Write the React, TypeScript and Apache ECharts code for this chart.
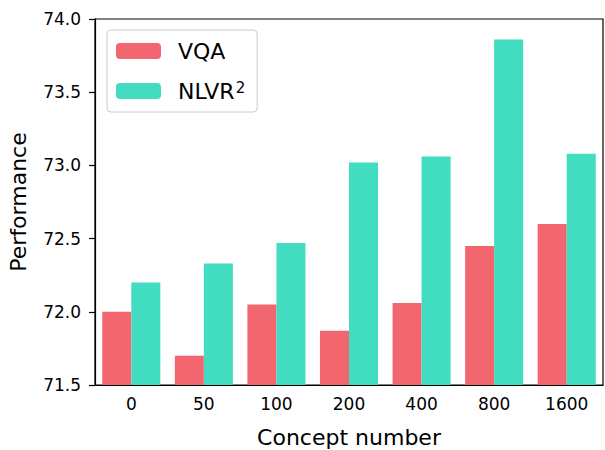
import React, { useEffect, useRef } from "react";
import * as echarts from "echarts";

const categories = ["0", "50", "100", "200", "400", "800", "1600"];
const vqaValues = [72.0, 71.7, 72.05, 71.87, 72.06, 72.45, 72.6];
const nlvrValues = [72.2, 72.33, 72.47, 73.02, 73.06, 73.86, 73.08];
const seriesNames = ["VQA", "NLVR²"];
const legendLabels: Record<string, string> = { "VQA": "VQA", "NLVR²": "NLVR{sup|2}" };

export default function App() {
  const ref = useRef<HTMLDivElement>(null);
  useEffect(() => {
    document.body.style.margin = "0";
    const chart = echarts.init(ref.current!, null, { renderer: "svg" });
    const font = "DejaVu Sans";
    chart.setOption({
      animation: false,
      backgroundColor: "#fff",
      textStyle: { fontFamily: font, color: "#000" },
      grid: {
        left: 95,
        right: 2,
        top: 19,
        bottom: 65,
        outerBoundsMode: "none",
        containLabel: false,
        show: true,
        borderColor: "#000",
        borderWidth: 1.2,
        backgroundColor: "transparent",
      },
      legend: {
        left: 107,
        top: 30,
        orient: "vertical",
        itemWidth: 45,
        itemHeight: 16,
        itemGap: 18,
        padding: [10, 12, 10, 9],
        borderColor: "#cccccc",
        borderWidth: 1,
        borderRadius: 4,
        backgroundColor: "rgba(255,255,255,0.8)",
        formatter: (name: string) => legendLabels[name] ?? name,
        textStyle: {
          fontFamily: font,
          fontSize: 22,
          color: "#000",
          padding: [0, 0, 0, 12],
          rich: {
            sup: { fontFamily: font, fontSize: 15, color: "#000", verticalAlign: "top", padding: [0, 0, 0, 1] },
          },
        },
        data: seriesNames,
      },
      xAxis: {
        type: "category",
        data: categories,
        name: "Concept number",
        nameLocation: "middle",
        nameGap: 41,
        nameTextStyle: { fontFamily: font, fontSize: 22, color: "#000" },
        axisLine: { lineStyle: { color: "#000", width: 1.2 } },
        axisTick: { alignWithLabel: true, length: 6, lineStyle: { color: "#000", width: 1.2 } },
        axisLabel: { fontFamily: font, fontSize: 17, color: "#000", margin: 10 },
      },
      yAxis: {
        type: "value",
        min: 71.5,
        max: 74.0,
        interval: 0.5,
        name: "Performance",
        nameLocation: "middle",
        nameGap: 66,
        nameTextStyle: { fontFamily: font, fontSize: 22, color: "#000" },
        axisLine: { show: true, lineStyle: { color: "#000", width: 1.2 } },
        axisTick: { show: true, length: 6, lineStyle: { color: "#000", width: 1.2 } },
        axisLabel: {
          fontFamily: font,
          fontSize: 17,
          color: "#000",
          margin: 14,
          formatter: (v: number) => v.toFixed(1),
        },
        splitLine: { show: false },
      },
      series: [
        {
          name: seriesNames[0],
          type: "bar",
          data: vqaValues,
          barGap: "0%",
          barCategoryGap: "20%",
          itemStyle: { color: "#f26670" },
        },
        {
          name: seriesNames[1],
          type: "bar",
          data: nlvrValues,
          itemStyle: { color: "#42dcc1" },
        },
      ],
    });
    return () => chart.dispose();
  }, []);
  return <div ref={ref} style={{ width: 605, height: 450 }} />;
}
